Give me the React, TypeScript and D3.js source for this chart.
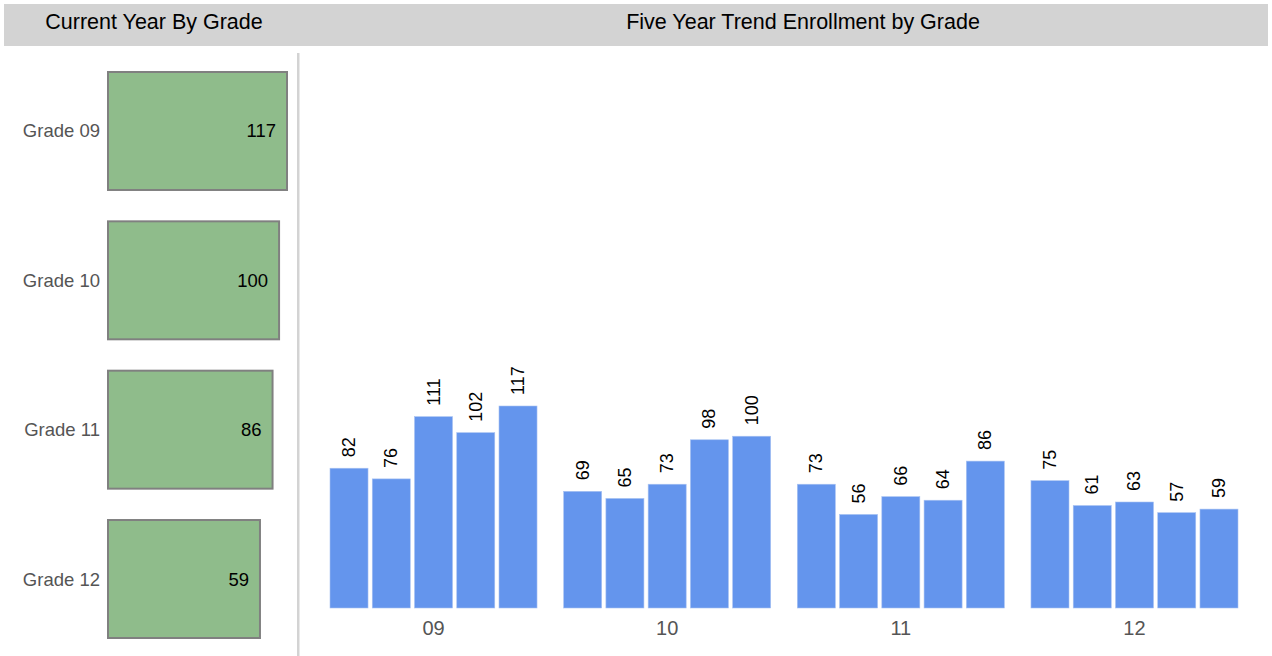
import React from "react";
import * as d3 from "d3";

const grades = ["09", "10", "11", "12"];
const currentYear = [117, 100, 86, 59];
const yearSlots = ["Y1", "Y2", "Y3", "Y4", "Y5"];
const trend09 = [82, 76, 111, 102, 117];
const trend10 = [69, 65, 73, 98, 100];
const trend11 = [73, 56, 66, 64, 86];
const trend12 = [75, 61, 63, 57, 59];
const trends = [trend09, trend10, trend11, trend12];

const W = 1272;
const H = 656;
const FONT = "'Liberation Sans', Arial, Helvetica, sans-serif";

export default function App() {
  // left panel scales
  const rowY = d3.scaleBand<string>().domain(grades).range([72, 638]).paddingInner(0.21);
  const boxW = d3.scaleLinear().domain([-267, 117]).range([0, 179]);
  const boxX0 = 108;

  // right panel scales
  const gx = d3.scaleBand<string>().domain(grades).range([330, 1238]).paddingInner(0.114);
  const bx = d3.scaleBand<string>().domain(yearSlots).range([0, gx.bandwidth()]).paddingInner(0.1);
  const y = d3.scaleLinear().domain([0, 117]).range([614, 406]);
  const baseline = 608;

  return (
    <svg width={W} height={H} style={{ position: "absolute", left: 0, top: 0, fontFamily: FONT }}>
      <rect x={0} y={0} width={W} height={H} fill="#ffffff" />
      {/* header */}
      <rect x={4} y={4} width={1264} height={42} fill="#d3d3d3" />
      <text x={154} y={22} textAnchor="middle" dominantBaseline="central" fontSize={21.5} fill="#000">
        Current Year By Grade
      </text>
      <text x={803} y={22} textAnchor="middle" dominantBaseline="central" fontSize={21.5} fill="#000">
        Five Year Trend Enrollment by Grade
      </text>
      {/* divider */}
      <rect x={297} y={53} width={2.5} height={H - 53} fill="#d3d3d3" />

      {/* left panel */}
      {grades.map((g, i) => {
        const top = rowY(g)!;
        const h = rowY.bandwidth();
        const w = boxW(currentYear[i]);
        return (
          <g key={g}>
            <text x={100} y={top + h / 2} textAnchor="end" dominantBaseline="central" fontSize={18.5} fill="#555">
              {"Grade " + g}
            </text>
            <rect x={boxX0} y={top} width={w} height={h} fill="#8fbc8b" stroke="#808080" strokeWidth={2} />
            <text x={boxX0 + w - 11} y={top + h / 2} textAnchor="end" dominantBaseline="central" fontSize={18.5} fill="#000">
              {currentYear[i]}
            </text>
          </g>
        );
      })}

      {/* right panel */}
      {grades.map((g, gi) => {
        const x0 = gx(g)!;
        return (
          <g key={g} transform={`translate(${x0},0)`}>
            {trends[gi].map((v, j) => {
              const x = bx(yearSlots[j])!;
              const top = y(v);
              const cx = x + bx.bandwidth() / 2;
              return (
                <g key={j}>
                  <rect x={x} y={top} width={bx.bandwidth()} height={baseline - top} fill="#6495ed" stroke="#a8c2f2" strokeWidth={0.6} />
                  <text
                    transform={`translate(${cx},${top - 11}) rotate(-90)`}
                    textAnchor="start"
                    dominantBaseline="central"
                    fontSize={18}
                    fill="#000"
                  >
                    {v}
                  </text>
                </g>
              );
            })}
            <text x={gx.bandwidth() / 2} y={628} textAnchor="middle" dominantBaseline="central" fontSize={20} fill="#555">
              {g}
            </text>
          </g>
        );
      })}
    </svg>
  );
}
